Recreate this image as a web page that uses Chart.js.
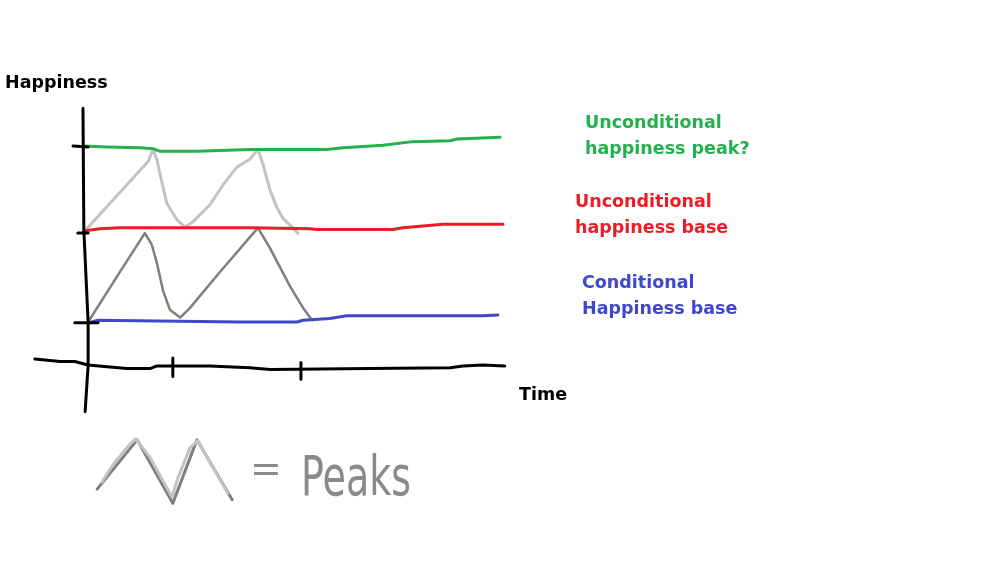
<!DOCTYPE html>
<html lang="en">
<head>
    <meta charset="UTF-8">
    <title>Happiness over time</title>
    <script src="https://cdn.jsdelivr.net/npm/chart.js"></script>
    <style>
        body {
            margin: 0;
            background: #ffffff;
        }

        .grafico-container {
            position: relative;
            width: 1000px;
            height: 563px;
        }
    </style>
</head>
<body>
    <div class="grafico-container">
        <canvas id="grafico"></canvas>
    </div>

    <script>
        // values: x = time, y = happiness level
        const greenTime  = [-0.07, 0.49, 1.26, 1.56, 1.72, 2.58, 3.81, 5.60, 5.98, 6.91, 7.60, 8.47, 8.63, 9.63];
        const greenLevel = [3.01, 3.00, 2.99, 2.98, 2.95, 2.95, 2.97, 2.97, 2.99, 3.02, 3.06, 3.07, 3.09, 3.11];

        const redTime  = [-0.07, 0.02, 0.33, 0.79, 3.81, 5.21, 5.37, 7.14, 7.37, 7.84, 8.30, 9.70];
        const redLevel = [2.02, 2.05, 2.07, 2.08, 2.08, 2.07, 2.06, 2.06, 2.08, 2.10, 2.12, 2.12];

        const blueTime  = [0.05, 0.28, 3.58, 4.91, 5.05, 5.67, 6.07, 9.23, 9.58];
        const blueLevel = [1.00, 1.03, 1.01, 1.01, 1.03, 1.05, 1.08, 1.08, 1.09];

        const peakTime  = [-0.02, 1.44, 1.56, 1.65, 1.77, 1.88, 2.12, 2.30, 2.49, 2.88, 3.19, 3.51, 3.81, 4.00, 4.12, 4.28, 4.44, 4.58, 4.93];
        const peakLevel = [2.05, 2.83, 2.97, 2.85, 2.59, 2.36, 2.17, 2.09, 2.15, 2.34, 2.57, 2.77, 2.86, 2.97, 2.80, 2.51, 2.31, 2.19, 2.02];

        const condPeakTime  = [0.05, 0.79, 1.37, 1.53, 1.65, 1.79, 1.95, 2.19, 2.42, 3.12, 4.00, 4.28, 4.74, 5.05, 5.26];
        const condPeakLevel = [1.01, 1.58, 2.02, 1.89, 1.68, 1.37, 1.15, 1.06, 1.17, 1.58, 2.08, 1.85, 1.42, 1.17, 1.03];

        // hand drawn axes and ticks
        const yAxisTime  = [-0.07, -0.05, 0.05, 0.05, -0.02];
        const yAxisLevel = [3.44, 2.06, 1.00, 0.52, -0.01];
        const xAxisTime  = [-1.19, -0.60, -0.26, 0.05, 0.49, 0.95, 1.49, 1.65, 1.95, 2.88, 3.81, 4.28, 6.60, 8.47, 8.77, 9.23, 9.74];
        const xAxisLevel = [0.59, 0.56, 0.56, 0.52, 0.50, 0.48, 0.48, 0.51, 0.51, 0.51, 0.49, 0.47, 0.48, 0.49, 0.51, 0.52, 0.51];
        const yTickTime  = [-0.30, 0.05, null, -0.19, 0.05, null, -0.26, 0.28];
        const yTickLevel = [3.01, 3.00, null, 2.02, 2.02, null, 1.00, 1.00];
        const xTickTime  = [2.02, 2.02, null, 5.00, 5.00];
        const xTickLevel = [0.60, 0.39, null, 0.55, 0.36];

        // the "peaks" key under the chart
        const keyDarkTime   = [0.26, 1.19, 2.02, 2.58, 3.40];
        const keyDarkLevel  = [-0.89, -0.33, -1.05, -0.33, -1.01];
        const keyLightTime  = [0.37, 0.63, 1.02, 1.16, 1.49, 2.00, 2.14, 2.42, 2.60, 2.88, 3.30];
        const keyLightLevel = [-0.81, -0.61, -0.38, -0.32, -0.53, -0.98, -0.76, -0.42, -0.34, -0.58, -0.94];

        const rotulos = [
            { text: 'Happiness', color: '#000000', x: 5, y: 88 },
            { text: 'Time', color: '#000000', x: 519, y: 400 },
            { text: 'Unconditional', color: '#22b14c', x: 585, y: 128 },
            { text: 'happiness peak?', color: '#22b14c', x: 585, y: 154 },
            { text: 'Unconditional', color: '#ed1c24', x: 575, y: 207 },
            { text: 'happiness base', color: '#ed1c24', x: 575, y: 233 },
            { text: 'Conditional', color: '#3f48cc', x: 582, y: 288 },
            { text: 'Happiness base', color: '#3f48cc', x: 582, y: 314 }
        ];

        const pontos = (xs, ys) => xs.map((x, i) => ({ x: x, y: ys[i] }));

        const linha = (xs, ys, cor, largura) => ({
            data: pontos(xs, ys),
            borderColor: cor,
            borderWidth: largura,
            showLine: true,
            pointRadius: 0,
            tension: 0,
            spanGaps: false,
            clip: false,
            borderJoinStyle: 'round',
            borderCapStyle: 'round'
        });

        const textos = {
            id: 'textos',
            afterDraw(chart) {
                const ctx = chart.ctx;
                ctx.save();
                ctx.textBaseline = 'alphabetic';
                ctx.textAlign = 'left';
                ctx.font = 'bold 17.5px "DejaVu Sans"';
                rotulos.forEach(r => {
                    ctx.fillStyle = r.color;
                    ctx.fillText(r.text, r.x, r.y);
                });

                // "= Peaks" written by hand in grey
                ctx.fillStyle = '#8a8a8a';
                ctx.font = '38px "DejaVu Sans"';
                ctx.fillText('=', 250, 481);
                ctx.translate(301, 495);
                ctx.scale(1, 1.45);
                ctx.fillText('Peaks', 0, 0);
                ctx.restore();
            }
        };

        const ctx = document.getElementById('grafico').getContext('2d');

        new Chart(ctx, {
            type: 'scatter',
            data: {
                datasets: [
                    linha(yAxisTime, yAxisLevel, '#000000', 3),
                    linha(xAxisTime, xAxisLevel, '#000000', 3),
                    linha(yTickTime, yTickLevel, '#000000', 3),
                    linha(xTickTime, xTickLevel, '#000000', 3),
                    linha(greenTime, greenLevel, '#22b14c', 3),
                    linha(redTime, redLevel, '#ed1c24', 3),
                    linha(blueTime, blueLevel, '#3f48cc', 3),
                    linha(peakTime, peakLevel, '#c3c3c3', 3),
                    linha(condPeakTime, condPeakLevel, '#7f7f7f', 2.5),
                    linha(keyLightTime, keyLightLevel, '#c3c3c3', 3),
                    linha(keyDarkTime, keyDarkLevel, '#7f7f7f', 3)
                ]
            },
            options: {
                responsive: true,
                maintainAspectRatio: false,
                animation: false,
                layout: { padding: 0 },
                plugins: {
                    legend: { display: false },
                    tooltip: { enabled: false }
                },
                scales: {
                    x: { type: 'linear', display: false, min: -2, max: 21.26 },
                    y: { type: 'linear', display: false, min: -1.73, max: 4.67 }
                }
            },
            plugins: [textos]
        });
    </script>
</body>
</html>
